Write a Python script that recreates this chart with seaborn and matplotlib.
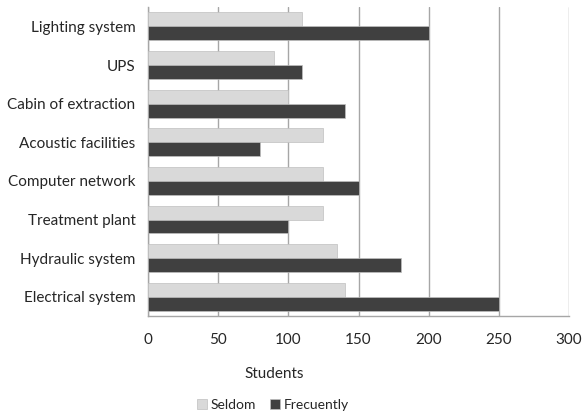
import matplotlib
matplotlib.use("Agg")
import matplotlib.pyplot as plt
import seaborn as sns
import pandas as pd

categories = ["Lighting system", "UPS", "Cabin of extraction", "Acoustic facilities",
              "Computer network", "Treatment plant", "Hydraulic system", "Electrical system"]
seldom = [110, 90, 100, 125, 125, 125, 135, 140]
frecuently = [200, 110, 140, 80, 150, 100, 180, 250]
series_names = ["Seldom", "Frecuently"]
x_ticks = [0, 50, 100, 150, 200, 250, 300]

df = pd.DataFrame({
    "category": categories * 2,
    "students": seldom + frecuently,
    "series": [series_names[0]] * len(categories) + [series_names[1]] * len(categories),
})

sns.set_style("white")
plt.rcParams["font.family"] = ["Lato", "DejaVu Sans"]

fig = plt.figure(figsize=(5.83, 4.16), dpi=100)
ax = fig.add_axes([0.254, 0.240, 0.722, 0.743])

palette = {"Seldom": "#d9d9d9", "Frecuently": "#404040"}
sns.barplot(data=df, y="category", x="students", hue="series", order=categories,
            hue_order=series_names, palette=palette, orient="h", width=0.72,
            edgecolor="#bfbfbf", linewidth=0.5, saturation=1, ax=ax, zorder=3)

ax.set_xlim(0, 300)
ax.set_xticks(x_ticks)
ax.xaxis.grid(True, color="#a6a6a6", linewidth=1.0, zorder=0)
ax.yaxis.grid(False)
ax.set_axisbelow(True)

for side in ["top", "right"]:
    ax.spines[side].set_visible(False)
for side in ["left", "bottom"]:
    ax.spines[side].set_color("#a6a6a6")
    ax.spines[side].set_linewidth(1.0)

ax.set_yticks(range(len(categories)))
ax.set_yticklabels(categories)
ax.set_yticks([i - 0.5 for i in range(len(categories) + 1)], minor=True)
ax.tick_params(axis="y", which="major", length=0, pad=9, labelsize=11, labelcolor="#262626")
ax.tick_params(axis="y", which="minor", length=4, color="#a6a6a6", width=1, direction="out")
ax.tick_params(axis="x", which="major", length=4, color="#a6a6a6", width=1, direction="out",
               pad=8, labelsize=11, labelcolor="#262626")
ax.set_ylim(len(categories) - 0.5, -0.5)

ax.set_ylabel("")
ax.set_xlabel("Students", fontsize=11, color="#262626")
ax.xaxis.set_label_coords(0.30, -0.165)

handles, labels = ax.get_legend_handles_labels()
ax.legend_.remove()
fig.legend(handles, labels, loc="center", bbox_to_anchor=(0.468, 0.027), ncol=2,
           frameon=False, fontsize=10, handlelength=0.75, handleheight=0.75,
           handletextpad=0.25, columnspacing=1.0, labelcolor="#262626",
           borderpad=0, borderaxespad=0)

fig.savefig("out.png", dpi=100, facecolor="white")
